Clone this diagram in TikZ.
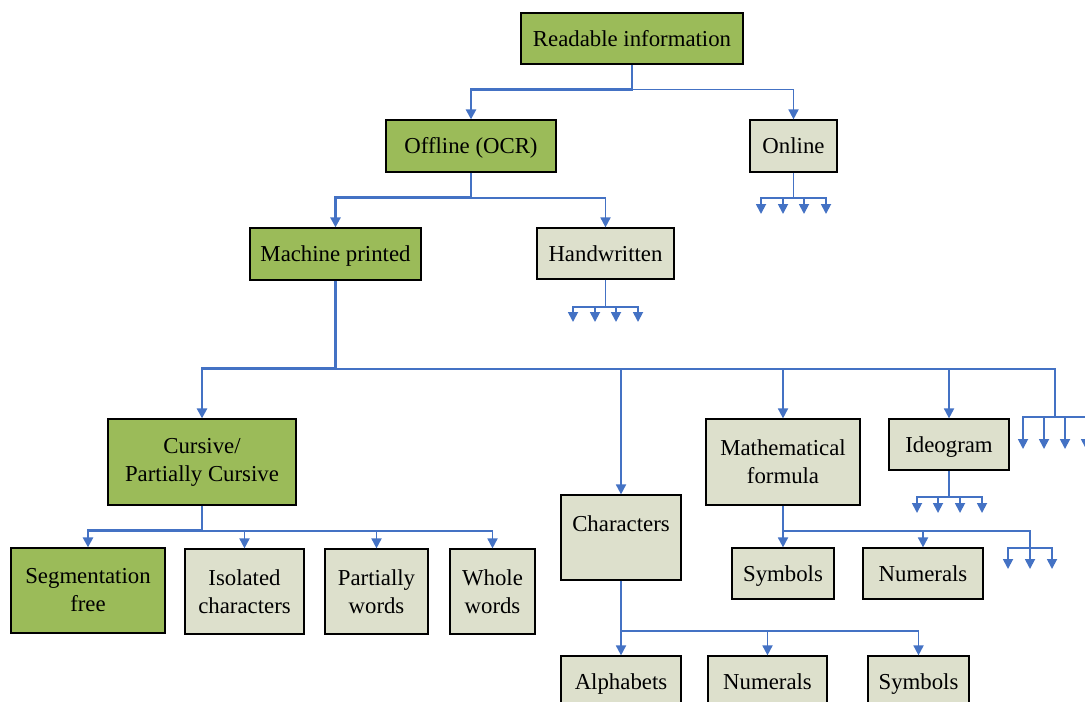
\documentclass[tikz,border=0pt]{standalone}
\usepackage{fontspec}
\setmainfont{Liberation Serif}
\usetikzlibrary{arrows.meta}
\definecolor{boxgreen}{HTML}{9BBB59}
\definecolor{boxgrey}{HTML}{DDE0CC}
\definecolor{linkblue}{HTML}{4472C4}
\begin{document}
\begin{tikzpicture}[x=0.5pt,y=-0.5pt,
	font=\fontsize{11.4}{14}\selectfont,
	box/.style={draw,line width=0.6pt,align=center,inner sep=1pt,
		execute at begin node=\rule{0pt}{10.8pt}},
	main/.style={box,fill=boxgreen,execute at end node=\rule[-3pt]{0pt}{3pt}},
	side/.style={box,fill=boxgrey,execute at end node=\rule[-3pt]{0pt}{3pt}},
	mainpair/.style={box,fill=boxgreen},
	sidepair/.style={box,fill=boxgrey},
	thk/.style={draw=linkblue,line width=1.3pt},
	thn/.style={draw=linkblue,line width=0.9pt},
	tip/.style={-{Triangle[width=5pt,length=5pt]}}]
	\useasboundingbox (0,0) rectangle (1085,701);
	% boxes
	\node[main,minimum width=111pt,minimum height=25.5pt] (read) at (632,38.5) {Readable information};
	\node[main,minimum width=85pt,minimum height=26pt] (off) at (471,146) {Offline (OCR)};
	\node[side,minimum width=43.5pt,minimum height=26pt] (onl) at (793.5,146) {Online};
	\node[main,minimum width=85.5pt,minimum height=26pt] (mach) at (335.5,254) {Machine printed};
	\node[side,minimum width=68.5pt,minimum height=25.5pt] (hand) at (605.5,253.5) {Handwritten};
	\node[mainpair,minimum width=94pt,minimum height=43pt] (curs) at (202,462) {Cursive/\\Partially Cursive};
	\node[sidepair,minimum width=60pt,minimum height=42.5pt] (chr) at (621,537.5) {Characters\\\mbox{}};
	\node[sidepair,minimum width=77pt,minimum height=43pt] (math) at (783,462) {Mathematical\\formula};
	\node[side,minimum width=60pt,minimum height=25.5pt] (ideo) at (949,444.5) {Ideogram};
	\node[mainpair,minimum width=77pt,minimum height=42.5pt] (seg) at (88,590.5) {Segmentation\\free};
	\node[sidepair,minimum width=59.5pt,minimum height=42.5pt] (iso) at (244.5,591.5) {Isolated\\characters};
	\node[sidepair,minimum width=51.5pt,minimum height=42.5pt] (part) at (376.5,591.5) {Partially\\words};
	\node[sidepair,minimum width=42.5pt,minimum height=42.5pt] (whole) at (492.5,591.5) {Whole\\words};
	\node[side,minimum width=51pt,minimum height=25.5pt] (msym) at (783,573.5) {Symbols};
	\node[side,minimum width=60pt,minimum height=25.5pt] (mnum) at (923,573.5) {Numerals};
	\node[side,minimum width=60pt,minimum height=25.5pt] (alph) at (621,681.5) {Alphabets};
	\node[side,minimum width=59.5pt,minimum height=25.5pt] (cnum) at (767.5,681.5) {Numerals};
	\node[side,minimum width=50.5pt,minimum height=25.5pt] (csym) at (918.5,681.5) {Symbols};
	% links
	\draw[thk,tip] (read.south) -- ++(0,25) coordinate (rj) -| (off.north);
	\draw[thn,tip] (rj) -| (onl.north);
	\draw[thk,tip] (off.south) -- ++(0,25) coordinate (oj) -| (mach.north);
	\draw[thn,tip] (oj) -| (hand.north);
	\draw[thk] (mach.south) -- ++(0,88) coordinate (mj);
	\draw[thk,tip] (mj) -| (curs.north);
	\draw[thn,tip] (mj) -| (chr.north);
	\draw[thn,tip] (mj) -| (math.north);
	\draw[thn,tip] (mj) -| (ideo.north);
	\coordinate (mfar) at (1055,417);
	\draw[thn] (mj) -| (mfar);
	\draw[thk] (curs.south) -- ++(0,25) coordinate (cj);
	\draw[thk,tip] (cj) -| (seg.north);
	\draw[thn,tip] (cj) -| (iso.north);
	\draw[thn,tip] (cj) -| (part.north);
	\draw[thn,tip] (cj) -| (whole.north);
	\draw[thk] (math.south) -- ++(0,25) coordinate (fj);
	\draw[thn,tip] (fj) -- (msym.north);
	\draw[thn,tip] (fj) -| (mnum.north);
	\coordinate (ffar) at (1030,548);
	\draw[thn] (fj) -| (ffar);
	\draw[thk] (chr.south) -- ++(0,50) coordinate (hj);
	\draw[thn,tip] (hj) -- (alph.north);
	\draw[thn,tip] (hj) -| (cnum.north);
	\draw[thn,tip] (hj) -| (csym.north);
	% open ends
	\draw[thn] (onl.south) -- ++(0,25) coordinate (nj);
	\foreach \x [count=\i] in {761,783,804,826}{
		\coordinate (nend\i) at (\x,214);
		\draw[thn,tip] (nj) -| (nend\i);}
	\draw[thn] (hand.south) -- ++(0,27) coordinate (wj);
	\foreach \x [count=\i] in {573,595,616,638}{
		\coordinate (wend\i) at (\x,322);
		\draw[thn,tip] (wj) -| (wend\i);}
	\draw[thn] (ideo.south) -- ++(0,26) coordinate (ij);
	\foreach \x [count=\i] in {917,938,960,982}{
		\coordinate (iend\i) at (\x,513);
		\draw[thn,tip] (ij) -| (iend\i);}
	\foreach \x [count=\i] in {1023,1044,1065,1086}{
		\coordinate (mend\i) at (\x,449);
		\draw[thn,tip] (mfar) -| (mend\i);}
	\foreach \x [count=\i] in {1008,1030,1052}{
		\coordinate (fend\i) at (\x,569);
		\draw[thn,tip] (ffar) -| (fend\i);}
\end{tikzpicture}
\end{document}
